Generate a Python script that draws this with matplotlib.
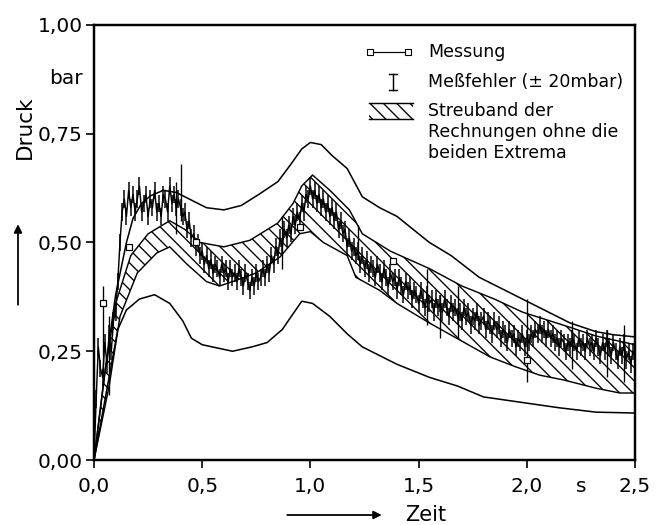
import numpy as np
import matplotlib
matplotlib.use('Agg')
import matplotlib.pyplot as plt
from matplotlib.patches import Rectangle, FancyArrowPatch
from matplotlib.lines import Line2D

plt.rcParams['font.family'] = ['DejaVu Sans']
plt.rcParams['hatch.linewidth'] = 1.2

# Messung (Druck in bar, Abtastung 0,01 s)
t_mess = np.linspace(0.0, 2.5, 251)
p_mess = [
    0.00, 0.14, 0.26, 0.21, 0.19, 0.27, 0.22, 0.29, 0.25, 0.32,
    0.34, 0.41, 0.50, 0.57, 0.60, 0.56, 0.62, 0.58, 0.61, 0.57,
    0.60, 0.63, 0.57, 0.59, 0.61, 0.56, 0.60, 0.58, 0.62, 0.57,
    0.59, 0.56, 0.61, 0.60, 0.57, 0.63, 0.59, 0.61, 0.58, 0.60,
    0.58, 0.56, 0.57, 0.53, 0.55, 0.51, 0.52, 0.49, 0.50, 0.47,
    0.48, 0.45, 0.47, 0.44, 0.46, 0.43, 0.45, 0.44, 0.42, 0.45,
    0.43, 0.44, 0.41, 0.44, 0.42, 0.43, 0.41, 0.44, 0.42, 0.40,
    0.43, 0.41, 0.39, 0.42, 0.40, 0.43, 0.41, 0.42, 0.44, 0.42,
    0.45, 0.43, 0.47, 0.45, 0.49, 0.47, 0.51, 0.49, 0.53, 0.51,
    0.54, 0.52, 0.56, 0.54, 0.57, 0.55, 0.59, 0.57, 0.61, 0.60,
    0.63, 0.60, 0.62, 0.59, 0.61, 0.58, 0.60, 0.57, 0.59, 0.56,
    0.58, 0.55, 0.57, 0.53, 0.55, 0.52, 0.53, 0.49, 0.51, 0.48,
    0.49, 0.47, 0.48, 0.45, 0.47, 0.44, 0.46, 0.43, 0.45, 0.44,
    0.42, 0.45, 0.43, 0.41, 0.44, 0.42, 0.40, 0.43, 0.41, 0.42,
    0.39, 0.42, 0.40, 0.38, 0.41, 0.39, 0.40, 0.37, 0.39, 0.38,
    0.36, 0.39, 0.37, 0.35, 0.38, 0.36, 0.37, 0.34, 0.37, 0.35,
    0.36, 0.34, 0.37, 0.35, 0.33, 0.36, 0.34, 0.35, 0.33, 0.34,
    0.32, 0.35, 0.33, 0.34, 0.31, 0.33, 0.32, 0.34, 0.31, 0.32,
    0.33, 0.30, 0.32, 0.31, 0.29, 0.32, 0.30, 0.31, 0.28, 0.30,
    0.29, 0.27, 0.30, 0.28, 0.29, 0.26, 0.28, 0.27, 0.29, 0.26,
    0.28, 0.27, 0.29, 0.28, 0.30, 0.29, 0.31, 0.29, 0.30, 0.28,
    0.30, 0.28, 0.29, 0.27, 0.28, 0.26, 0.28, 0.27, 0.25, 0.27,
    0.26, 0.28, 0.27, 0.25, 0.28, 0.26, 0.27, 0.25, 0.28, 0.26,
    0.27, 0.25, 0.28, 0.26, 0.24, 0.27, 0.25, 0.28, 0.26, 0.24,
    0.27, 0.25, 0.23, 0.26, 0.24, 0.27, 0.23, 0.25, 0.22, 0.25,
    0.24,
]
fehler = 0.02  # Meßfehler +-20 mbar

# einzelne lange Ausreißer der Messung
spike_t = [0.04, 0.07, 0.38, 0.40, 0.87, 1.22, 1.54, 1.60, 1.68, 2.00, 2.21, 2.37, 2.45]
spike_lo = [0.17, 0.15, 0.52, 0.55, 0.44, 0.46, 0.31, 0.28, 0.28, 0.18, 0.21, 0.19, 0.18]
spike_hi = [0.40, 0.33, 0.64, 0.68, 0.56, 0.54, 0.44, 0.38, 0.40, 0.37, 0.32, 0.30, 0.31]

# Messpunkte (Quadrate)
mark_t = [0.04, 0.16, 0.47, 0.95, 1.38, 2.00]
mark_p = [0.36, 0.49, 0.50, 0.535, 0.457, 0.23]

# obere Extremrechnung
top_t = [0, 0.05, 0.10, 0.15, 0.18, 0.22, 0.26, 0.32, 0.38, 0.44, 0.52, 0.60, 0.68, 0.76,
         0.85, 0.91, 0.96, 1.00, 1.05, 1.10, 1.17, 1.24, 1.32, 1.40, 1.55, 1.65,
         1.78, 1.90, 1.98, 2.10, 2.20, 2.32, 2.40, 2.50]
top_p = [0, 0.20, 0.38, 0.50, 0.555, 0.59, 0.607, 0.62, 0.615, 0.60, 0.58, 0.575, 0.585,
         0.61, 0.64, 0.68, 0.715, 0.73, 0.725, 0.70, 0.67, 0.605, 0.58, 0.56, 0.50, 0.47,
         0.42, 0.39, 0.37, 0.34, 0.315, 0.295, 0.288, 0.283]

# untere Extremrechnung
low_t = [0, 0.11, 0.15, 0.21, 0.28, 0.35, 0.41, 0.45, 0.50, 0.64, 0.73, 0.80, 0.87,
         0.96, 1.01, 1.09, 1.17, 1.24, 1.32, 1.40, 1.55, 1.68, 1.80, 2.01, 2.15,
         2.32, 2.50]
low_p = [0, 0.30, 0.345, 0.37, 0.38, 0.36, 0.32, 0.28, 0.265, 0.25, 0.26, 0.27, 0.30,
         0.365, 0.36, 0.33, 0.29, 0.26, 0.24, 0.22, 0.19, 0.17, 0.145, 0.13, 0.12,
         0.11, 0.108]

# Streuband: obere und untere Grenze
bo_t = [0, 0.05, 0.10, 0.17, 0.25, 0.35, 0.42, 0.49, 0.60, 0.72, 0.85, 0.92, 0.96,
        1.01, 1.09, 1.18, 1.24, 1.37, 1.55, 1.70, 1.85, 1.98, 2.20, 2.32, 2.50]
bo_p = [0, 0.20, 0.36, 0.47, 0.52, 0.55, 0.53, 0.50, 0.49, 0.505, 0.545, 0.59, 0.63,
        0.655, 0.62, 0.575, 0.52, 0.48, 0.44, 0.40, 0.37, 0.34, 0.305, 0.285, 0.265]
bu_t = [0, 0.07, 0.12, 0.20, 0.29, 0.35, 0.43, 0.52, 0.58, 0.64, 0.75, 0.86, 0.95,
        1.00, 1.06, 1.17, 1.21, 1.32, 1.40, 1.55, 1.83, 1.95, 2.06, 2.17, 2.32,
        2.43, 2.50]
bu_p = [0, 0.17, 0.33, 0.43, 0.476, 0.49, 0.45, 0.41, 0.40, 0.41, 0.43, 0.467, 0.52,
        0.525, 0.50, 0.47, 0.42, 0.39, 0.36, 0.315, 0.237, 0.214, 0.195, 0.184, 0.165,
        0.154, 0.154]

x_ticks = [0.0, 0.5, 1.0, 1.5, 2.0, 2.5]
x_labels = ['0,0', '0,5', '1,0', '1,5', '2,0', '2,5']
y_ticks = [0.0, 0.25, 0.5, 0.75, 1.0]
y_labels = ['0,00', '0,25', '0,50', '0,75', '1,00']

# dpi 80 -> Schraffurabstand wie im Original, Größen in pt daher x1.25
W, H, DPI = 665, 525, 80
fig = plt.figure(figsize=(W / DPI, H / DPI), dpi=DPI)
ax = fig.add_axes([94 / W, 1 - 460 / H, 541 / W, 435 / H])


def px(x, y):
    # Pixelposition im Bild -> Figure-Koordinaten
    return x / W, 1 - y / H


# Streuband schraffiert
ax.fill(np.r_[bo_t, bu_t[::-1]], np.r_[bo_p, bu_p[::-1]],
        facecolor='none', edgecolor='black', hatch='\\\\', lw=1.3)
ax.plot(top_t, top_p, color='black', lw=1.4)
ax.plot(low_t, low_p, color='black', lw=1.4)

# Messung mit Fehlerbalken
p = np.array(p_mess)
ax.vlines(t_mess, p - fehler, p + fehler, color='black', lw=1.35)
ax.vlines(spike_t, spike_lo, spike_hi, color='black', lw=1.2)
ax.plot(t_mess, p, color='black', lw=1.3)
ax.plot(mark_t, mark_p, ls='none', marker='s', ms=5.6, mfc='white',
        mec='black', mew=1.1, zorder=5)

ax.set_xlim(0, 2.5)
ax.set_ylim(0, 1.0)
ax.set_xticks(x_ticks)
ax.set_xticklabels(x_labels)
ax.set_yticks(y_ticks)
ax.set_yticklabels(y_labels)
ax.tick_params(axis='both', direction='out', length=7.5, width=1.5, labelsize=18.1)
ax.tick_params(axis='x', pad=7.5)
ax.tick_params(axis='y', pad=2.5)
for s in ax.spines.values():
    s.set_linewidth(2.2)

# Achsenbeschriftungen
fig.text(*px(25, 127), 'Druck', rotation=90, ha='center', va='center', fontsize=19.4)
fig.text(*px(66, 78), 'bar', ha='center', va='center', fontsize=18.1)
fig.text(*px(581, 487), 's', ha='center', va='center', fontsize=18.1)
fig.text(*px(426, 515), 'Zeit', ha='center', va='center', fontsize=18.75)
fig.patches.append(FancyArrowPatch(px(18, 307), px(18, 222), transform=fig.transFigure,
                                   arrowstyle='-|>', mutation_scale=15, color='black', lw=1.6))
fig.patches.append(FancyArrowPatch(px(285, 515), px(384, 515), transform=fig.transFigure,
                                   arrowstyle='-|>', mutation_scale=15, color='black', lw=1.6))

# Legende von Hand
fs_leg = 15.6
fig.lines.append(Line2D([370 / W, 408 / W], [1 - 52 / H, 1 - 52 / H], transform=fig.transFigure,
                        color='black', lw=1.1, marker='s', ms=5, mfc='white', mec='black'))
fig.text(*px(428, 52), 'Messung', ha='left', va='center', fontsize=fs_leg)
fig.lines.append(Line2D([393 / W, 393 / W], [1 - 74 / H, 1 - 90 / H], transform=fig.transFigure,
                        color='black', lw=1.3))
fig.lines.append(Line2D([389 / W, 397 / W], [1 - 74 / H, 1 - 74 / H], transform=fig.transFigure,
                        color='black', lw=1.3))
fig.lines.append(Line2D([389 / W, 397 / W], [1 - 90 / H, 1 - 90 / H], transform=fig.transFigure,
                        color='black', lw=1.3))
fig.text(*px(428, 82), 'Meßfehler (± 20mbar)', ha='left', va='center', fontsize=fs_leg)
fig.patches.append(Rectangle(px(369, 119), 44 / W, 16 / H, transform=fig.transFigure,
                             facecolor='none', edgecolor='black', lw=0, hatch='\\\\'))
for yy in (103, 119):
    fig.lines.append(Line2D([369 / W, 413 / W], [1 - yy / H, 1 - yy / H], transform=fig.transFigure,
                            color='black', lw=1.3))
fig.text(*px(428, 102), 'Streuband der\nRechnungen ohne die\nbeiden Extrema',
         ha='left', va='top', fontsize=fs_leg, linespacing=1.2)

fig.savefig('out.png', dpi=DPI)
